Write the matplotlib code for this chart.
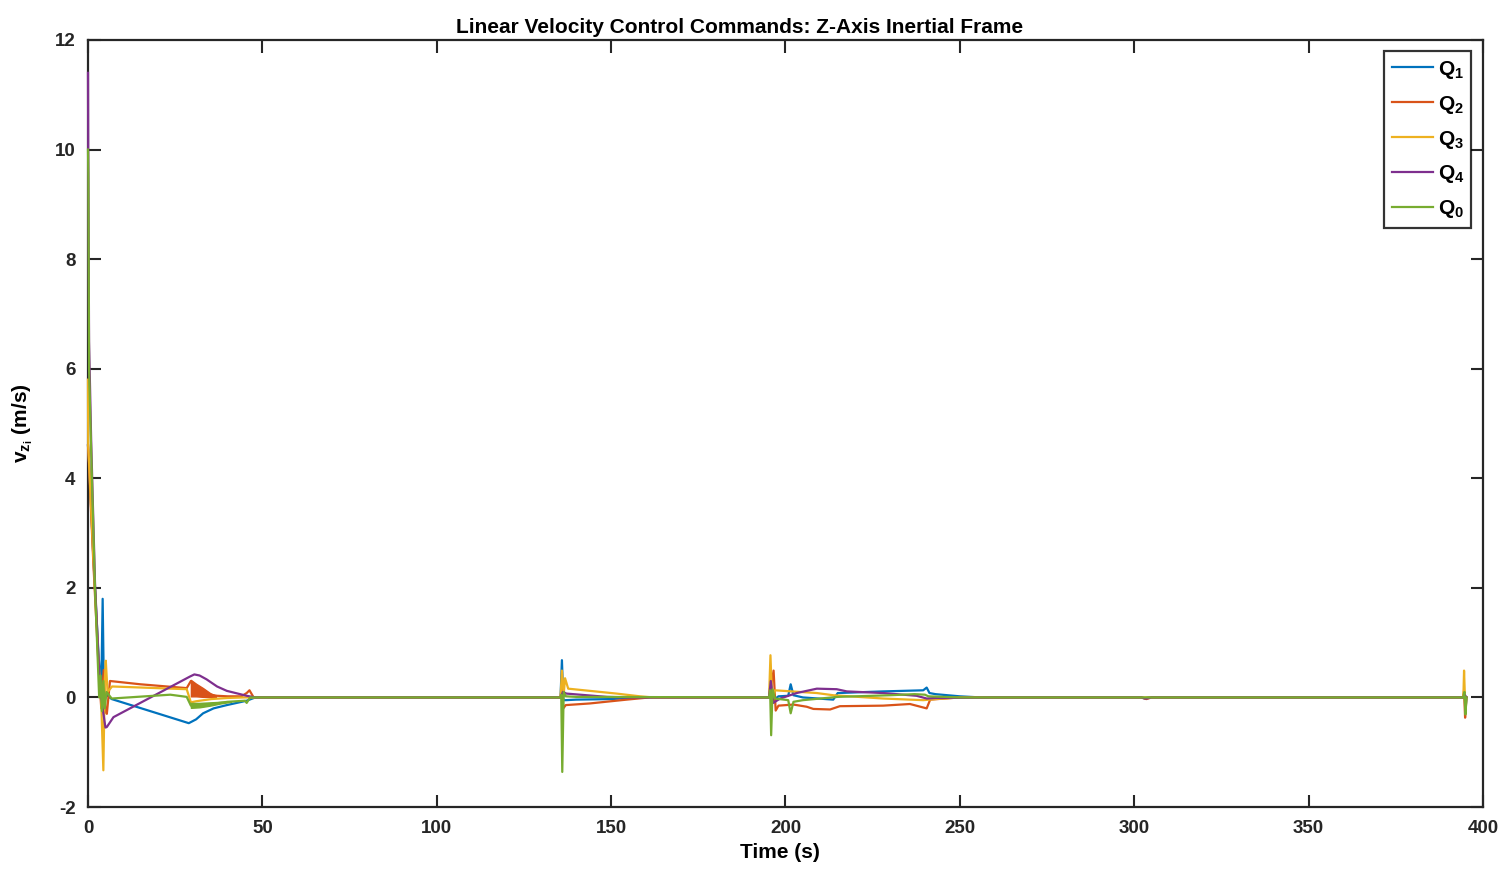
import numpy as np
import matplotlib.pyplot as plt

# series (time s, commanded v_z m/s)
t_q1 = [0, 0.3, 1.5, 3.0, 3.8, 4.2, 4.6, 5.2, 6.8, 26.4, 28.9, 31, 33, 36, 39.8, 45.5, 48,
        135.5, 135.9, 136.3, 137, 140, 150, 158,
        195.3, 195.8, 196.5, 198, 200.8, 201.5, 202.3, 205, 213.7, 215, 228, 239.5, 240.5, 241.3, 243, 250, 256,
        302, 303, 304, 394.3, 394.7, 395.1, 395.3]
v_q1 = [4.6, 4.3, 2.6, 0.8, 0.1, 1.8, -0.1, 0.05, -0.03, -0.42, -0.47, -0.40, -0.29, -0.2, -0.14, -0.06, 0,
        0, 0.68, -0.05, -0.05, -0.04, -0.03, 0,
        0, 0.3, -0.05, 0.02, 0.03, 0.24, 0.04, 0, -0.04, 0.08, 0.11, 0.13, 0.18, 0.08, 0.06, 0.02, 0,
        0, -0.02, 0, 0, 0.1, -0.15, 0.0]

t_q2 = [0, 0.3, 1.5, 3.0, 3.8, 4.5, 5.0, 5.4, 6.3, 15, 28.3, 29.5, 31, 33, 35, 37, 40, 44, 45.5, 46.3, 47.5,
        135.5, 135.9, 136.3, 137, 143.9, 154.5, 161,
        195.3, 196.6, 197.2, 198, 202.3, 206.1, 208, 212.8, 215.6, 228, 235.7, 240.5, 241.5, 250,
        302, 303.5, 305, 394.3, 394.6, 394.9, 395.3]
v_q2 = [4.6, 4.2, 2.5, 0.6, -0.2, 0.5, -0.25, -0.3, 0.3, 0.24, 0.17, 0.3, 0.12, 0.08, 0.05, 0.03, 0.02, 0.02, 0.08, 0.13, 0,
        0, 0.2, -0.2, -0.14, -0.11, -0.04, 0,
        0, 0.49, -0.24, -0.15, -0.13, -0.17, -0.21, -0.22, -0.16, -0.15, -0.12, -0.2, -0.04, 0,
        0, -0.03, 0, 0, 0.12, -0.37, 0]
# oscillation envelope of Q2 after t = 29 s
t_q2_band = [29.5, 31, 33, 35, 36.7]
top_q2_band = [0.32, 0.25, 0.17, 0.08, 0.03]
bot_q2_band = [0.02, 0.02, 0.01, 0.01, 0.01]

t_q3 = [0, 0.05, 0.3, 1.5, 3.0, 3.8, 4.4, 4.8, 5.1, 5.6, 6.9, 28.3, 29.5, 31, 35.4, 40, 45,
        135.5, 135.9, 136.4, 136.8, 137.7, 151.6, 158.3, 162,
        195.3, 195.7, 196.2, 197, 209, 213.7, 228, 239.5, 243, 250,
        394.4, 394.6, 394.9, 395.3]
v_q3 = [5.8, 4.6, 4.3, 2.6, 0.7, -0.1, -1.33, 0.3, 0.67, 0.1, 0.2, 0.15, -0.09, -0.07, -0.03, -0.01, 0,
        0, 0.49, 0.05, 0.35, 0.16, 0.07, 0.02, 0,
        0, 0.77, -0.1, 0.13, 0.08, 0.04, -0.02, -0.05, -0.03, 0,
        0, 0.49, -0.1, 0]

t_q4 = [0, 0.06, 0.3, 0.9, 2.0, 3.3, 4.2, 5.0, 5.4, 7.3, 29.2, 30.5, 32, 34, 37, 39.8, 45.5, 48,
        135.5, 136.2, 137.2, 148.8, 155,
        195.3, 195.8, 196.5, 198.5, 203.2, 209, 214.7, 217.6, 228, 237.6, 240.5, 243, 260,
        302, 303.5, 305, 394.5, 394.8, 395.3]
v_q4 = [11.4, 10.0, 6.5, 4.7, 2.1, 0.3, -0.2, -0.55, -0.54, -0.36, 0.38, 0.42, 0.4, 0.33, 0.2, 0.12, 0.03, 0,
        0, 0.1, 0.07, 0.01, 0,
        0, 0.3, -0.1, -0.02, 0.08, 0.16, 0.15, 0.11, 0.08, 0.03, -0.02, -0.01, 0,
        0, -0.02, 0, 0, 0.05, 0]

t_q0 = [0, 0.1, 0.3, 0.5, 0.86, 2.0, 3.2, 3.6, 4.0, 4.4, 4.8, 5.3, 6.8, 23.6, 28.3, 29.5, 35.4, 40, 45, 45.5, 46.5, 48,
        135.5, 135.7, 136.0, 136.4, 137, 140,
        195.3, 195.6, 195.9, 196.3, 197, 200.8, 201.5, 202.3, 205, 215, 230, 237, 240, 241, 250,
        394.4, 394.7, 395.0, 395.3]
v_q0 = [10.0, 9.5, 6.0, 5.5, 4.6, 2.0, 0.0, 0.4, -0.25, 0.3, -0.2, 0.1, -0.02, 0.05, 0.01, -0.15, -0.12, -0.08, -0.06, -0.1, 0, 0,
        0, 0.05, -1.36, 0.1, 0.02, 0.01,
        0, 0.13, -0.69, 0.15, -0.02, -0.05, -0.29, -0.08, -0.05, 0.01, 0.04, 0.06, 0.05, 0.02, 0,
        0, 0.1, -0.31, 0]
# oscillation envelope of Q0 after t = 29 s
t_q0_band = [29.5, 32, 35, 38, 41]
top_q0_band = [-0.1, -0.1, -0.09, -0.08, -0.07]
bot_q0_band = [-0.19, -0.18, -0.15, -0.11, -0.08]

colors = ['#0072BD', '#D95319', '#EDB120', '#7E2F8E', '#77AC30']
labels = [r'$\mathbf{Q_1}$', r'$\mathbf{Q_2}$', r'$\mathbf{Q_3}$', r'$\mathbf{Q_4}$', r'$\mathbf{Q_0}$']
series = [(t_q1, v_q1), (t_q2, v_q2), (t_q3, v_q3), (t_q4, v_q4), (t_q0, v_q0)]

plt.rcParams['font.family'] = ['Liberation Sans', 'DejaVu Sans']
plt.rcParams['font.weight'] = 'bold'
plt.rcParams['axes.unicode_minus'] = False
plt.rcParams['mathtext.fontset'] = 'custom'
plt.rcParams['mathtext.rm'] = 'Liberation Sans:bold'
plt.rcParams['mathtext.bf'] = 'Liberation Sans:bold'
plt.rcParams['mathtext.it'] = 'Liberation Sans:bold'

fig = plt.figure(figsize=(15.07, 8.73), dpi=100)
ax = fig.add_axes([0.0584, 0.0756, 0.9256, 0.8786])

for (t, v), lab, col in zip(series, labels, colors):
    ax.plot(t, v, color=col, lw=1.6, label=lab, zorder=3, clip_on=False)
    if col == colors[1]:
        ax.fill_between(t_q2_band, bot_q2_band, top_q2_band, color=col, lw=1, zorder=3)
    if col == colors[4]:
        ax.fill_between(t_q0_band, bot_q0_band, top_q0_band, color=col, lw=1, zorder=3)

ax.set_xlim(0, 400)
ax.set_ylim(-2, 12)
ax.set_xticks(np.arange(0, 401, 50))
ax.set_yticks(np.arange(-2, 13, 2))
ax.tick_params(direction='in', length=9, width=1.5, top=True, right=True,
               labelsize=13.5, colors='#262626')
ax.tick_params(axis='x', pad=9)
ax.tick_params(axis='y', pad=9)
for s in ax.spines.values():
    s.set_linewidth(1.6)
    s.set_color('#262626')
    s.set_zorder(2)

ax.set_xlabel('Time (s)', fontsize=15, fontweight='bold')
ax.xaxis.set_label_coords(0.4957, -0.047)
ax.set_ylabel(r'$\mathbf{v_{z_i}}$ (m/s)', fontsize=15, fontweight='bold', labelpad=14)
ax.set_title('Linear Velocity Control Commands: Z-Axis Inertial Frame', fontsize=15,
             fontweight='bold', x=0.467, pad=5)

leg = ax.legend(loc='upper right', fontsize=15, frameon=True, fancybox=False,
                borderaxespad=0.55, handlelength=2.0, handletextpad=0.2,
                labelspacing=0.62, borderpad=0.35)
leg.get_frame().set_edgecolor('black')
leg.get_frame().set_linewidth(1.6)
leg.set_zorder(5)

fig.savefig('out.png', dpi=100)
